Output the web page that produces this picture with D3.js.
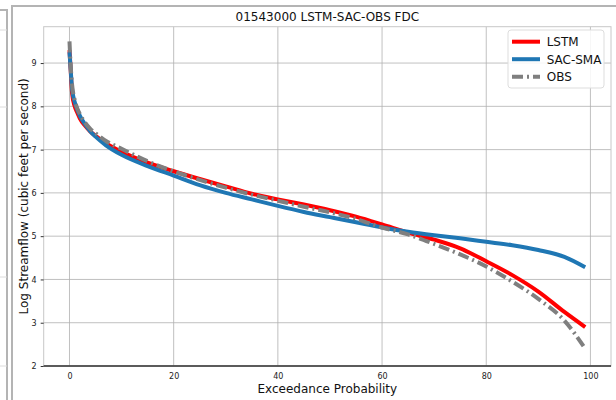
<!DOCTYPE html>
<html>
<head>
<meta charset="utf-8">
<script src="https://cdn.jsdelivr.net/npm/d3@7"></script>
<style>
  body { margin: 0; background: #fff; }
  svg { display: block; font-family: "DejaVu Sans", sans-serif; }
</style>
</head>
<body>
<script>
'use strict';

// exceedance probability (%)
const exceed = [0, 0.2, 0.5, 1, 1.5, 2, 3, 4, 5, 7, 10, 15, 20, 25, 30, 35, 40, 45, 50, 55, 60, 65, 70, 75, 80, 85, 90, 95, 99];
// log streamflow
const lstm = [9.3, 8.9, 8.3, 8.0, 7.85, 7.72, 7.55, 7.42, 7.32, 7.15, 6.95, 6.7, 6.5, 6.32, 6.15, 5.98, 5.85, 5.73, 5.6, 5.45, 5.27, 5.08, 4.92, 4.72, 4.42, 4.1, 3.72, 3.25, 2.9];
const sac  = [9.25, 8.9, 8.4, 8.1, 7.92, 7.78, 7.58, 7.42, 7.3, 7.1, 6.88, 6.62, 6.4, 6.18, 6.0, 5.85, 5.7, 5.56, 5.44, 5.32, 5.2, 5.1, 5.02, 4.95, 4.87, 4.79, 4.68, 4.52, 4.28];
const obs  = [9.5, 9.0, 8.5, 8.15, 7.95, 7.82, 7.62, 7.48, 7.38, 7.2, 7.02, 6.73, 6.5, 6.3, 6.12, 5.96, 5.82, 5.68, 5.55, 5.4, 5.2, 5.04, 4.82, 4.58, 4.3, 3.95, 3.55, 3.05, 2.4];

const xTicks = [0, 20, 40, 60, 80, 100];
const yTicks = [2, 3, 4, 5, 6, 7, 8, 9];

const series = [
  {name: 'LSTM', values: lstm, color: '#ff0000', dash: null},
  {name: 'SAC-SMA', values: sac, color: '#1f77b4', dash: null},
  {name: 'OBS', values: obs, color: '#7f7f7f', dash: '11,4,2,4'}
];

const width = 616, height = 400;
const m = {left: 43.7, right: 611, top: 26.7, bottom: 366};

const svg = d3.select('body').append('svg')
  .attr('width', width)
  .attr('height', height);

// screenshot frame
const frame = svg.append('g').attr('fill', 'none').attr('stroke', '#b4b4b4');
frame.append('path').attr('d', 'M12,400V6H616').attr('stroke-width', 2);
frame.append('path').attr('d', 'M0,10H7V400').attr('stroke-width', 2);
frame.append('path').attr('d', 'M0,30H7M0,107H7M0,277H7M0,366H7').attr('stroke', '#dcdcdc').attr('stroke-width', 1);

const x = d3.scaleLinear().domain([-4.95, 103.95]).range([m.left, m.right]);
const y = d3.scaleLinear().domain([2, 9.84]).range([m.bottom, m.top]);

// grid
svg.append('g')
  .selectAll('line.gx').data(xTicks).join('line')
  .attr('x1', d => x(d)).attr('x2', d => x(d))
  .attr('y1', m.top).attr('y2', m.bottom)
  .attr('stroke', '#b0b0b0').attr('stroke-width', 0.8);
svg.append('g')
  .selectAll('line.gy').data(yTicks).join('line')
  .attr('x1', m.left).attr('x2', m.right)
  .attr('y1', d => y(d)).attr('y2', d => y(d))
  .attr('stroke', '#b0b0b0').attr('stroke-width', 0.8);

// spines
svg.append('rect')
  .attr('x', m.left).attr('y', m.top)
  .attr('width', m.right - m.left).attr('height', m.bottom - m.top)
  .attr('fill', 'none').attr('stroke', '#c8c8c8').attr('stroke-width', 1);
svg.append('line')
  .attr('x1', m.left).attr('x2', m.right)
  .attr('y1', m.bottom).attr('y2', m.bottom)
  .attr('stroke', '#333').attr('stroke-width', 1.5);

// axes
const xAxis = svg.append('g')
  .attr('transform', `translate(0,${m.bottom})`)
  .call(d3.axisBottom(x).tickValues(xTicks).tickSize(0).tickPadding(7));
const yAxis = svg.append('g')
  .attr('transform', `translate(${m.left},0)`)
  .call(d3.axisLeft(y).tickValues(yTicks).tickSize(3).tickPadding(4));
[xAxis, yAxis].forEach(a => {
  a.select('.domain').remove();
  a.selectAll('text').attr('font-size', 8).attr('fill', '#222')
    .attr('font-family', '"DejaVu Sans", sans-serif');
  a.selectAll('line').attr('stroke', '#333');
});

// lines
const line = d3.line()
  .x((d, i) => x(exceed[i]))
  .y(d => y(d))
  .curve(d3.curveMonotoneX);

svg.append('g')
  .selectAll('path').data(series).join('path')
  .attr('d', d => line(d.values))
  .attr('fill', 'none')
  .attr('stroke', d => d.color)
  .attr('stroke-width', 4)
  .attr('stroke-dasharray', d => d.dash)
  .attr('stroke-linejoin', 'round');

// title and labels
svg.append('text')
  .attr('x', (m.left + m.right) / 2).attr('y', 21)
  .attr('text-anchor', 'middle').attr('font-size', 12).attr('fill', '#111')
  .text('01543000 LSTM-SAC-OBS FDC');
svg.append('text')
  .attr('x', (m.left + m.right) / 2).attr('y', 393)
  .attr('text-anchor', 'middle').attr('font-size', 12).attr('fill', '#111')
  .text('Exceedance Probability');
svg.append('text')
  .attr('transform', `translate(28,${(m.top + m.bottom) / 2}) rotate(-90)`)
  .attr('text-anchor', 'middle').attr('font-size', 12).attr('fill', '#111')
  .text('Log Streamflow (cubic feet per second)');

// legend
const leg = svg.append('g').attr('transform', 'translate(508,30)');
leg.append('rect')
  .attr('width', 96).attr('height', 58).attr('rx', 3)
  .attr('fill', '#fff').attr('fill-opacity', 0.85)
  .attr('stroke', '#dddddd').attr('stroke-width', 1);
const item = leg.selectAll('g.item').data(series).join('g')
  .attr('transform', (d, i) => `translate(0,${11.7 + i * 17.5})`);
item.append('line')
  .attr('x1', 4).attr('x2', 32)
  .attr('stroke', d => d.color).attr('stroke-width', 4)
  .attr('stroke-dasharray', d => d.dash);
item.append('text')
  .attr('x', 38.7).attr('y', 4.5)
  .attr('font-size', 12).attr('fill', '#111')
  .text(d => d.name);
</script>
</body>
</html>
